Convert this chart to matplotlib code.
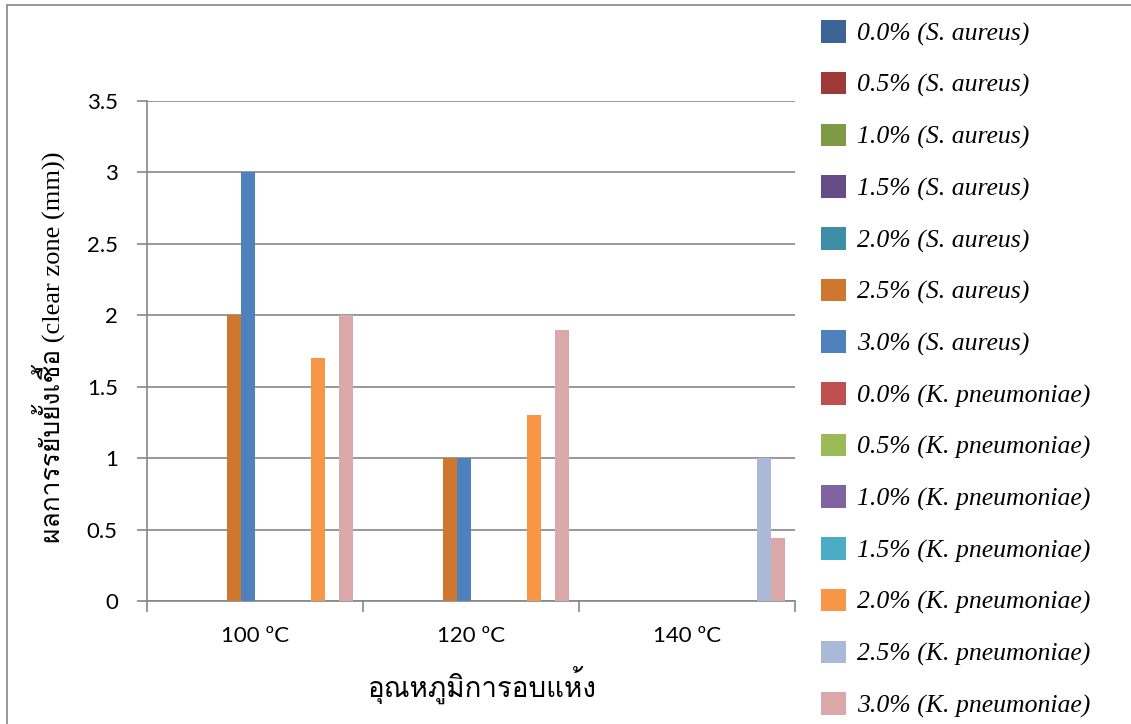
import numpy as np
import matplotlib.pyplot as plt
from matplotlib import font_manager
from matplotlib.ft2font import FT2Font
from matplotlib.patches import Rectangle

# data
groups = ['100 ºC', '120 ºC', '140 ºC']
series = ['0.0% (S. aureus)', '0.5% (S. aureus)', '1.0% (S. aureus)', '1.5% (S. aureus)',
          '2.0% (S. aureus)', '2.5% (S. aureus)', '3.0% (S. aureus)',
          '0.0% (K. pneumoniae)', '0.5% (K. pneumoniae)', '1.0% (K. pneumoniae)',
          '1.5% (K. pneumoniae)', '2.0% (K. pneumoniae)', '2.5% (K. pneumoniae)',
          '3.0% (K. pneumoniae)']
values = [
    [0, 0, 0],        # 0.0% S
    [0, 0, 0],        # 0.5% S
    [0, 0, 0],        # 1.0% S
    [0, 0, 0],        # 1.5% S
    [0, 0, 0],        # 2.0% S
    [2, 1, 0],        # 2.5% S
    [3, 1, 0],        # 3.0% S
    [0, 0, 0],        # 0.0% K
    [0, 0, 0],        # 0.5% K
    [0, 0, 0],        # 1.0% K
    [0, 0, 0],        # 1.5% K
    [1.7, 1.3, 0],    # 2.0% K
    [0, 0, 1.0],      # 2.5% K
    [2.0, 1.9, 0.44], # 3.0% K
]
colors = ['#3C6496', '#9E3B38', '#7E9A45', '#664D86', '#3B8EA5', '#D0772F', '#4F81BD',
          '#C0504D', '#9BBB59', '#8064A2', '#4BACC6', '#F79646', '#A9B9D7', '#DAA8A8']

# find a font with thai glyphs
thai = 'DejaVu Sans'
for f in font_manager.fontManager.ttflist:
    try:
        if 0x0E1C in FT2Font(f.fname).get_charmap():
            thai = f.name
            break
    except Exception:
        pass

fig = plt.figure(figsize=(11.31, 7.24), dpi=100)
ax = fig.add_axes([147/1131, 1-601/724, 648/1131, 500/724])

n = len(series)
w = 1/(n+1.5)
x = np.arange(len(groups))
for j in range(n):
    ax.bar(x + (j - (n-1)/2)*w, values[j], w, color=colors[j], label=series[j], zorder=3)

ax.set_xlim(-0.5, 2.5)
ax.set_ylim(0, 3.5)
ax.set_yticks(np.arange(0, 3.51, 0.5))
ax.set_yticklabels(['0', '0.5', '1', '1.5', '2', '2.5', '3', '3.5'])
ax.yaxis.grid(True, color='#868686', lw=1.2, zorder=0)
ax.set_xticks(x, groups)
ax.set_xticks([-0.5, 0.5, 1.5, 2.5], minor=True)
ax.tick_params(axis='x', which='major', length=0, pad=18, labelsize=16)
ax.tick_params(axis='x', which='minor', length=8, color='#868686', width=1.2)
ax.tick_params(axis='y', length=7, color='#868686', width=1.2, labelsize=16, pad=14)
for lab in ax.get_xticklabels() + ax.get_yticklabels():
    lab.set_family('Lato')
for s in ['top', 'right']:
    ax.spines[s].set_visible(False)
for s in ['left', 'bottom']:
    ax.spines[s].set_color('#868686')
    ax.spines[s].set_linewidth(1.2)

ax.set_ylabel('ผลการรยับยั้งเชื้อ (clear zone (mm))', fontsize=19,
              family=['Liberation Serif', thai], va='center')
ax.yaxis.set_label_coords(-0.153, 0.508)
ax.set_xlabel('อุณหภูมิการอบแห้ง', fontsize=20, family=[thai, 'Liberation Serif'], va='center')
ax.xaxis.set_label_coords(0.518, -0.168)

leg = fig.legend(loc='center left', bbox_to_anchor=(821/1131, 1-369/724), frameon=False,
                 prop={'family': 'Liberation Serif', 'style': 'italic', 'size': 18.5},
                 borderpad=0, borderaxespad=0, labelspacing=1.02,
                 handlelength=0.97, handleheight=0.97, handletextpad=0.45)

# chart border (runs off the bottom and right of the image)
fig.patches.append(Rectangle((7/1131, -0.1), 1.1, 1.1-5/724, transform=fig.transFigure,
                             fill=False, edgecolor='#868686', lw=1.2))

plt.savefig('out.png')
